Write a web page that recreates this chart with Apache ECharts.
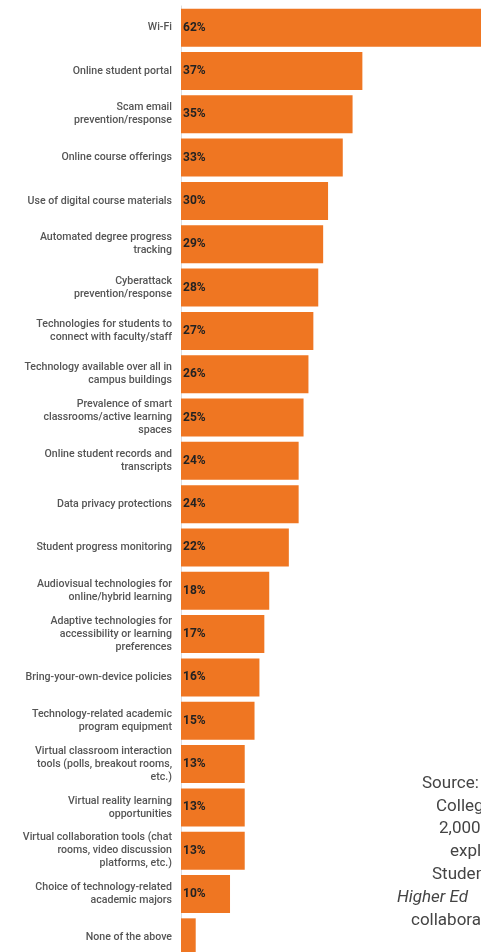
<!DOCTYPE html>
<html>
<head>
<meta charset="utf-8">
<script src="https://cdn.jsdelivr.net/npm/echarts@6/dist/echarts.min.js"></script>
<style>
  html, body { margin: 0; padding: 0; background: #fff; overflow: hidden; }
  #chart { width: 481px; height: 952px; }
</style>
</head>
<body>
<div id="chart"></div>
<script>
    var categories = [
        'Wi-Fi',
        'Online student portal',
        'Scam email\nprevention/response',
        'Online course offerings',
        'Use of digital course materials',
        'Automated degree progress\ntracking',
        'Cyberattack\nprevention/response',
        'Technologies for students to\nconnect with faculty/staff',
        'Technology available over all in\ncampus buildings',
        'Prevalence of smart\nclassrooms/active learning\nspaces',
        'Online student records and\ntranscripts',
        'Data privacy protections',
        'Student progress monitoring',
        'Audiovisual technologies for\nonline/hybrid learning',
        'Adaptive technologies for\naccessibility or learning\npreferences',
        'Bring-your-own-device policies',
        'Technology-related academic\nprogram equipment',
        'Virtual classroom interaction\ntools (polls, breakout rooms,\netc.)',
        'Virtual reality learning\nopportunities',
        'Virtual collaboration tools (chat\nrooms, video discussion\nplatforms, etc.)',
        'Choice of technology-related\nacademic majors',
        'None of the above'
    ];
    var values = [62, 37, 35, 33, 30, 29, 28, 27, 26, 25, 24, 24, 22, 18, 17, 16, 15, 13, 13, 13, 10, 3];
    // 出处文字（右侧被裁切）
    var sourceLines = [
        'Source: Student Voice survey',
        'College Pulse, Inside',
        '2,000 students',
        'explored',
        'Student Voice',
        'Higher Ed',
        'collaboration'
    ];

    var myChart = echarts.init(document.getElementById('chart'));

    var barData = values.map(function (v, i) {
        var d = { value: v };
        if (v < 5) d.label = { show: false };
        return d;
    });

    var sourceX = [422, 436, 439, 450, 432, 397, 411];
    var graphics = sourceLines.map(function (t, i) {
        return {
            type: 'text',
            left: sourceX[i],
            top: 775 + i * 22.8,
            style: {
                text: t,
                fill: '#444',
                font: (i === 5 ? 'italic ' : '') + '17px Roboto'
            }
        };
    });

    option = {
        animation: false,
        grid: {
            left: 181,
            right: 0,
            top: 6,
            height: 953,
            outerBoundsMode: 'none',
            containLabel: false
        },
        xAxis: {
            type: 'value',
            min: 0,
            max: 61.2,
            show: false
        },
        yAxis: {
            type: 'category',
            inverse: true,
            data: categories,
            axisLine: { show: true, lineStyle: { color: '#dddddd', width: 1 } },
            axisTick: { show: false },
            axisLabel: {
                margin: 9,
                color: '#555',
                fontFamily: 'Roboto',
                fontSize: 10.6,
                fontWeight: 500,
                lineHeight: 13,
                align: 'right'
            }
        },
        series: [
            {
                type: 'bar',
                data: barData,
                barWidth: 38,
                itemStyle: { color: '#EF7622' },
                label: {
                    show: true,
                    position: 'insideLeft',
                    distance: 2,
                    formatter: '{c}%',
                    color: '#222',
                    fontFamily: 'Roboto',
                    fontSize: 12,
                    fontWeight: 'bold'
                }
            }
        ],
        graphic: graphics
    };

    myChart.setOption(option);
</script>
</body>
</html>
